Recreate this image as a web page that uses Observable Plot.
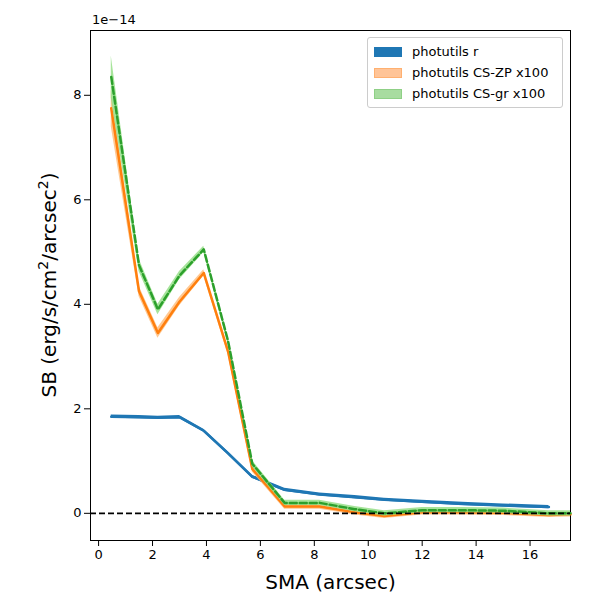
<!DOCTYPE html>
<html><head>
<script src="https://cdn.jsdelivr.net/npm/d3@7"></script>
<script src="https://cdn.jsdelivr.net/npm/@observablehq/plot@0.6"></script>
<style>body{margin:0;font-family:"DejaVu Sans",sans-serif;background:#fff}#wrap{position:relative;width:600px;height:600px}
#leg{position:absolute;left:367px;top:37px;width:194px;border:1px solid #ccc;border-radius:3px;background:#fff;font-size:13px;padding:3px 0;z-index:2}
#leg div{display:flex;align-items:center;height:21px;padding-left:6px}#leg span{display:inline-block;width:28px;height:10px;margin-right:10px;box-sizing:border-box}
#exp{position:absolute;left:92px;top:12px;font-size:13px;z-index:2}</style>
</head><body><div id="wrap"><div id="exp">1e−14</div>
<div id="leg"><div><span style="background:#1f77b4"></span>photutils r</div><div><span style="background:#ffc497;border:1px solid #ffb070"></span>photutils CS-ZP x100</div><div><span style="background:#a8dca0;border:1px solid #8fd086"></span>photutils CS-gr x100</div></div></div>
<script>
const sma=[0.47,1.5,2.2,3.0,3.9,4.8,5.7,6.9,8.2,9.5,10.6,12.0,13.5,15.0,16.7,17.5];
const orange=[7.75,4.25,3.45,4.05,4.6,3.1,0.85,0.13,0.13,0.02,-0.05,0.02,0.02,0.01,-0.03,-0.02];
const green=[8.35,4.75,3.9,4.55,5.05,3.3,0.95,0.2,0.2,0.08,0.0,0.06,0.06,0.05,0.0,0.0];
const greenErr=[0.4,0.12,0.1,0.08,0.06,0.06,0.06,0.05,0.05,0.05,0.05,0.05,0.05,0.05,0.05,0.05];
const orangeErr=[0.35,0.1,0.1,0.08,0.06,0.06,0.06,0.05,0.05,0.05,0.05,0.05,0.05,0.05,0.05,0.05];
const blue=[1.85,1.84,1.83,1.84,1.58,1.15,0.7,0.45,0.36,0.31,0.26,0.22,0.18,0.15,0.12];
const D=sma.map((x,i)=>({x,o:orange[i],g:green[i],ge:greenErr[i],oe:orangeErr[i]}));
const B=blue.map((y,i)=>({x:sma[i],y}));
const p=Plot.plot({width:600,height:600,marginLeft:90,marginRight:30,marginTop:30,marginBottom:60,
style:{fontFamily:"DejaVu Sans",fontSize:"13px"},
x:{domain:[-0.3,17.5],ticks:[0,2,4,6,8,10,12,14,16],label:"SMA (arcsec)",labelArrow:"none",labelAnchor:"center",labelOffset:48},
y:{domain:[-0.52,9.24],ticks:[0,2,4,6,8],label:null},
marks:[
Plot.frame({stroke:"black"}),
Plot.areaY(B,{x:"x",y1:d=>d.y-0.03,y2:d=>d.y+0.03,fill:"#1f77b4"}),
Plot.line(B,{x:"x",y:"y",stroke:"#1f77b4",strokeWidth:2.5}),
Plot.areaY(D,{x:"x",y1:d=>d.o-d.oe,y2:d=>d.o+d.oe,fill:"#ffbb78",fillOpacity:0.8}),
Plot.line(D,{x:"x",y:"o",stroke:"#ff7f0e",strokeWidth:2.5}),
Plot.areaY(D,{x:"x",y1:d=>d.g-d.ge,y2:d=>d.g+d.ge,fill:"#98df8a",fillOpacity:0.85}),
Plot.line(D,{x:"x",y:"g",stroke:"#2ca02c",strokeWidth:2.5,strokeDasharray:"7,3"}),
Plot.ruleY([0],{stroke:"black",strokeWidth:1.8,strokeDasharray:"6,3"})
]});
const svg=d3.select(p);
svg.selectAll("[aria-label='x-axis label'] text, [aria-label='x-axis label']").style("font-size","20px");
svg.append("text").attr("transform","translate(56,285) rotate(-90)").attr("text-anchor","middle").style("font-size","20px")
.html('SB (erg/s/cm<tspan dy="-8" font-size="14">2</tspan><tspan dy="8">/arcsec</tspan><tspan dy="-8" font-size="14">2</tspan><tspan dy="8">)</tspan>');
document.getElementById("wrap").prepend(p);p.style.position="absolute";p.style.left="0";p.style.top="0";
</script></body></html>
